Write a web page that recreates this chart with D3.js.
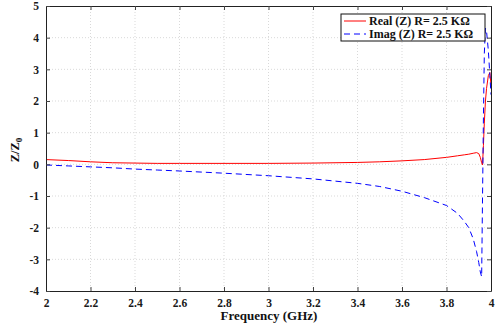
<!DOCTYPE html>
<html><head><meta charset="utf-8">
<script src="https://cdn.jsdelivr.net/npm/d3@7"></script>
<style>body{margin:0;background:#fff}svg{display:block}text{font-family:"Liberation Serif","Times New Roman",serif;font-weight:bold}</style>
</head><body><svg id="c" width="495" height="329"></svg>
<script>
const freq = [2.0,2.1,2.2,2.3,2.4,2.5,2.6,2.8,3.0,3.2,3.4,3.5,3.6,3.7,3.8,3.85,3.88,3.9,3.92,3.935,3.945,3.952,3.958,3.962,3.966,3.970,3.975,3.98,3.988,3.995,4.0];
const realZ = [0.15,0.12,0.08,0.05,0.04,0.03,0.03,0.03,0.03,0.04,0.06,0.08,0.11,0.15,0.22,0.27,0.30,0.32,0.35,0.37,0.34,0.22,0.05,-0.02,0.6,1.3,2.0,2.4,2.8,2.9,2.5];
const imagZ = [-0.02,-0.05,-0.08,-0.11,-0.15,-0.18,-0.21,-0.28,-0.36,-0.46,-0.6,-0.7,-0.85,-1.05,-1.3,-1.55,-1.8,-2.0,-2.35,-2.75,-3.1,-3.4,-3.55,-1.0,1.5,3.5,4.3,4.2,3.6,2.8,2.2];
const xTicks = [2,2.2,2.4,2.6,2.8,3,3.2,3.4,3.6,3.8,4];
const yTicks = [-4,-3,-2,-1,0,1,2,3,4,5];
const legendLabels = ["Real (Z) R= 2.5 K\u03A9","Imag (Z) R= 2.5 K\u03A9"];

const svg = d3.select("#c");
const L=46,R=491,T=6,B=291;
const x = d3.scaleLinear().domain([2,4]).range([L,R]);
const y = d3.scaleLinear().domain([-4,5]).range([B,T]);

// grid
const g = svg.append("g");
g.selectAll(".gx").data(xTicks.slice(1,-1)).enter().append("line")
 .attr("x1",d=>x(d)).attr("x2",d=>x(d)).attr("y1",T).attr("y2",B)
 .attr("stroke","#d9d9d9").attr("stroke-width",1).attr("stroke-dasharray","1,2");
g.selectAll(".gy").data(yTicks.slice(1,-1)).enter().append("line")
 .attr("y1",d=>y(d)).attr("y2",d=>y(d)).attr("x1",L).attr("x2",R)
 .attr("stroke","#d9d9d9").attr("stroke-width",1).attr("stroke-dasharray","1,2");

// data lines
const pts = freq.map((f,i)=>({f,r:realZ[i],im:imagZ[i]}));
svg.append("path").datum(pts)
 .attr("d",d3.line().x(d=>x(d.f)).y(d=>y(d.r)))
 .attr("fill","none").attr("stroke","#ff0000").attr("stroke-width",1);
svg.append("path").datum(pts)
 .attr("d",d3.line().x(d=>x(d.f)).y(d=>y(d.im)))
 .attr("fill","none").attr("stroke","#0000ff").attr("stroke-width",1).attr("stroke-dasharray","6,4");

// axes
const fmt = d=>String(d);
svg.append("g").attr("transform",`translate(0,${B})`)
 .call(d3.axisBottom(x).tickValues(xTicks).tickFormat(fmt).tickSizeInner(-4).tickSizeOuter(0).tickPadding(8));
svg.append("g").attr("transform",`translate(0,${T})`)
 .call(d3.axisTop(x).tickValues(xTicks).tickFormat("").tickSizeInner(-4).tickSizeOuter(0));
svg.append("g").attr("transform",`translate(${L},0)`)
 .call(d3.axisLeft(y).tickValues(yTicks).tickFormat(fmt).tickSizeInner(-4).tickSizeOuter(0).tickPadding(7));
svg.append("g").attr("transform",`translate(${R},0)`)
 .call(d3.axisRight(y).tickValues(yTicks).tickFormat("").tickSizeInner(-4).tickSizeOuter(0));
svg.selectAll(".domain").attr("stroke","#222");
svg.selectAll(".tick line").attr("stroke","#444");
svg.selectAll(".tick text").attr("font-size",11.5).attr("fill","#1a1a1a")
 .style("font-family","'Liberation Serif',serif").style("font-weight","bold");

// axis titles
svg.append("text").attr("x",269).attr("y",320).attr("text-anchor","middle")
 .attr("font-size",13).attr("fill","#111").text("Frequency (GHz)");
const yl = svg.append("text").attr("transform",`translate(19,150) rotate(-90)`)
 .attr("text-anchor","middle").attr("font-size",12.5).attr("fill","#111");
yl.append("tspan").text("Z/Z");
yl.append("tspan").attr("font-size",9).attr("dy",3).text("0");

// legend
const lg = svg.append("g");
lg.append("rect").attr("x",341).attr("y",14).attr("width",144).attr("height",27)
 .attr("fill","#fff").attr("stroke","#111").attr("stroke-width",1);
legendLabels.forEach((t,i)=>{
  const yy = 21+i*13;
  lg.append("line").attr("x1",344).attr("x2",366).attr("y1",yy).attr("y2",yy)
    .attr("stroke",i?"#0000ff":"#ff0000").attr("stroke-width",1)
    .attr("stroke-dasharray",i?"6,4":null);
  lg.append("text").attr("x",369).attr("y",yy+4).attr("font-size",12).attr("fill","#111").text(t);
});
</script></body></html>
